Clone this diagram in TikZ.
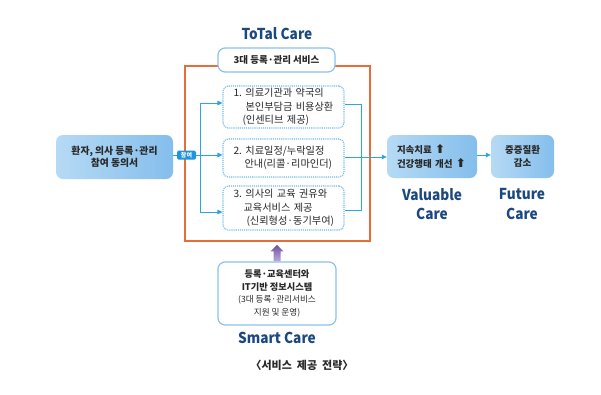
\documentclass[tikz,border=0pt]{standalone}
\usepackage{fontspec}
\setmainfont{Noto Sans CJK KR}
\newfontfamily\ttlfont{Noto Sans CJK KR}[FakeStretch=0.91]
\newfontfamily\sym{DejaVu Sans}
\usetikzlibrary{arrows.meta,calc}
\definecolor{titleblue}{RGB}{28,72,128}
\definecolor{linkblue}{RGB}{45,165,228}
\definecolor{dotblue}{RGB}{110,185,232}
\definecolor{frameorange}{RGB}{230,108,58}
\definecolor{lightbord}{RGB}{140,195,235}
\definecolor{boxA}{RGB}{182,218,245}
\definecolor{boxB}{RGB}{132,190,236}
\definecolor{tagblue}{RGB}{30,150,222}
\definecolor{txt}{RGB}{40,40,40}
\definecolor{purpA}{RGB}{110,80,160}
\definecolor{purpB}{RGB}{190,170,220}
\tikzset{
  dotbox/.style={draw=dotblue, densely dotted, line width=1.1pt, rounded corners=5pt, fill=white,
    minimum height=#1, text width=100pt, inner xsep=10.5pt, inner ysep=0pt, align=left, text=txt,
    font=\fontsize{10.2}{13.5}\selectfont},
  bluebox/.style={left color=boxA, right color=boxB, rounded corners=7pt, text=txt,
    font=\bfseries\fontsize{9.8}{12.5}\selectfont, inner sep=0pt},
  whitebox/.style={draw=lightbord, line width=1.2pt, rounded corners=7pt, fill=white, text=txt, inner sep=0pt},
  ttl/.style={text=titleblue, font=\ttlfont\bfseries\fontsize{15}{19.5}\selectfont, inner sep=0pt},
  link/.style={draw=linkblue, line width=0.8pt},
  arr/.style={link, -{Triangle[length=5pt,width=4.5pt]}},
}
\newcommand{\smallline}{\mdseries\fontsize{8.6}{12}\selectfont}
\newcommand{\uparr}{{\sym\bfseries\fontsize{12}{11}\selectfont ⬆}}
\begin{document}
\begin{tikzpicture}[x=1pt,y=-1pt]
\useasboundingbox (0,0) rectangle (601,394);
\fill[white] (0,0) rectangle (601,394);

% orange frame
\node[draw=frameorange, line width=1.6pt, minimum width=185pt, minimum height=175pt, inner sep=0pt] (frame) at (277.5,153.5) {};

% title + top box
\node[ttl] (total) at (277,34) {ToTal Care};
\node[whitebox, minimum width=117pt, minimum height=24pt, font=\bfseries\fontsize{9.5}{11}\selectfont] (svc) at (276.5,60) {3대 등록·관리 서비스};

% dashed service boxes
\node[dotbox=42pt] (b1) at (283.5,107) {1.\ 의료기관과 약국의\\\hspace*{12pt}본인부담금 비용상환\\\hspace*{9pt}(인센티브 제공)};
\node[dotbox=38pt] (b2) at (283.5,158) {2.\ 치료일정/누락일정\\\hspace*{11pt}안내(리콜·리마인더)};
\node[dotbox=44pt] (b3) at (283.5,208) {3.\ 의사의 교육 권유와\\\hspace*{10pt}교육서비스 제공\\\hspace*{13pt}(신뢰형성·동기부여)};

% left box
\node[bluebox, minimum width=117pt, minimum height=44pt, align=center] (left) at (114.5,157) {환자, 의사 등록·관리\\참여 동의서};

% right boxes
\node[bluebox, minimum width=90pt, minimum height=43pt, align=left, text width=74pt, inner xsep=8pt, font=\bfseries\fontsize{9.5}{13.5}\selectfont] (val) at (432,156.5) {\hspace*{2pt}지속치료 \uparr\\\hspace*{2pt}건강행태 개선 \uparr};
\node[bluebox, minimum width=63pt, minimum height=43pt, align=center, font=\bfseries\fontsize{9.5}{13.5}\selectfont] (fut) at (522.5,156.5) {중증질환\\감소};

% labels
\node[ttl, align=center] (valt) at (432,204) {Valuable\\Care};
\node[ttl, align=center] (futt) at (522,204) {Future\\Care};

% connectors left
\coordinate (jl) at (200,155);
\coordinate (jtop) at (200,103);
\coordinate (jbot) at (200,212);
\coordinate (ym) at (0,157);
\coordinate (yr) at (0,155);
\draw[link] (jtop) -- (jbot);
\draw[arr] (left.east |- jl) -- (b2.west |- jl);
\draw[arr] (jtop) -- (b1.west |- jtop);
\draw[arr] (jbot) -- (b3.west |- jbot);
\node[fill=tagblue, rounded corners=1.5pt, text=white, font=\bfseries\fontsize{6}{7}\selectfont, minimum width=19pt, minimum height=9pt, inner sep=0pt] (tag) at (186.5,155) {참여};

% connectors right
\coordinate (rtop) at (361,104);
\coordinate (rbot) at (361,210);
\draw[link] (b1.east |- rtop) -- (rtop) -- (rbot) -- (b3.east |- rbot);
\draw[arr] (b2.east |- ym) -- (val.west |- ym);
\draw[arr] (val.east |- yr) -- (fut.west |- yr);

% smart care
\node[whitebox, minimum width=118pt, minimum height=63pt, align=center, font=\bfseries\fontsize{9.2}{12.5}\selectfont] (smart) at (277,293.5) {등록·교육센터와\\IT기반 정보시스템\\\smallline(3대 등록·관리서비스\\\smallline 지원 및 운영)};
\node[ttl] (smt) at (277,338) {Smart Care};
\node[text=txt, font=\bfseries\fontsize{11}{13}\selectfont, inner sep=0pt] (cap) at (302,365) {〈서비스\ \ 제공\ \ 전략〉};

% purple arrow
\shade[top color=purpA, bottom color=purpB]
  ($(smart.north)+(-3.5,0)$) -- ($(smart.north)+(-3.5,-10)$) -- ($(smart.north)+(-6.5,-10)$)
  -- ($(smart.north |- frame.south)+(0,3)$) -- ($(smart.north)+(6.5,-10)$) -- ($(smart.north)+(3.5,-10)$)
  -- ($(smart.north)+(3.5,0)$) -- cycle;
\end{tikzpicture}
\end{document}
